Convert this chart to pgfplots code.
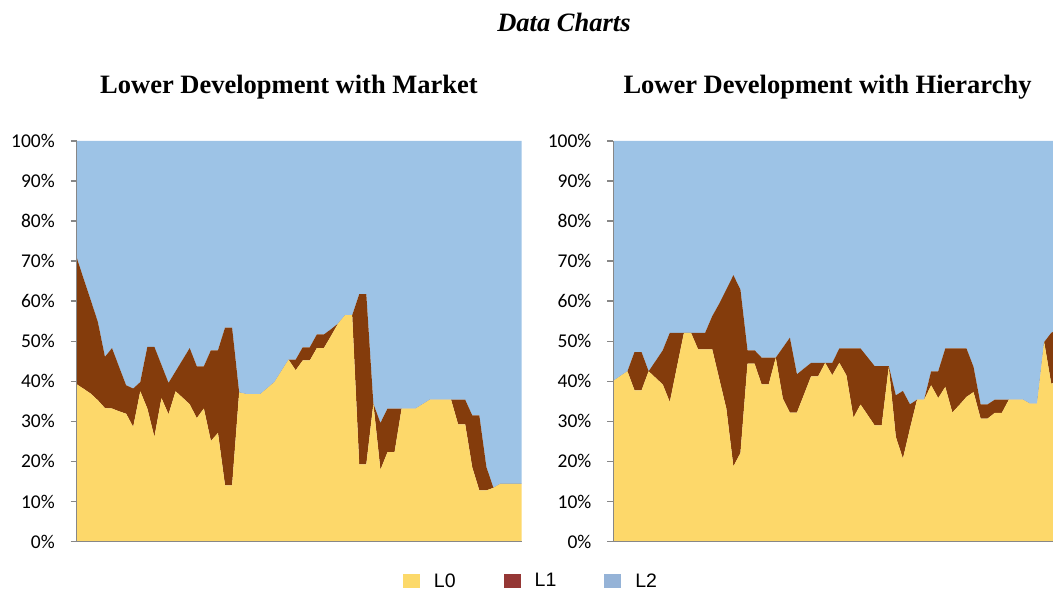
\documentclass[border=0pt]{standalone}
\usepackage{fontspec}
\setmainfont{Liberation Serif}
\newfontfamily\carlito{Carlito}
\newfontfamily\arialf{Liberation Sans}
\usepackage{pgfplots}
\usepackage{pgfplotstable}
\pgfplotsset{compat=1.18}

\definecolor{fillA}{HTML}{FDD86A}
\definecolor{fillB}{HTML}{843C0C}
\definecolor{fillC}{HTML}{9DC3E6}
\definecolor{legA}{HTML}{FCD96A}
\definecolor{legB}{HTML}{953735}
\definecolor{legC}{HTML}{95B3D7}
\definecolor{axisgray}{HTML}{878787}

% shares of L0, L1, L2 (percent) per period
\pgfplotstableread{
i L0 L1 L2
0 39.25 31.65 29.10
1 38.10 27.40 34.50
2 36.90 23.30 39.80
3 35.25 19.55 45.20
4 33.30 12.80 53.90
5 33.20 15.10 51.70
6 32.50 11.10 56.40
7 31.90 7.10 61.00
8 28.60 9.60 61.80
9 37.50 2.30 60.20
10 33.20 15.40 51.40
11 26.10 22.50 51.40
12 35.80 8.30 55.90
13 31.75 7.85 60.40
14 37.50 5.00 57.50
15 35.90 9.50 54.60
16 34.25 14.05 51.70
17 30.80 12.95 56.25
18 33.20 10.55 56.25
19 25.10 22.65 52.25
20 27.10 20.65 52.25
21 14.00 39.40 46.60
22 14.00 39.40 46.60
23 37.20 0 62.80
24 36.80 0 63.20
25 36.80 0 63.20
26 36.80 0 63.20
27 38.30 0 61.70
28 39.80 0 60.20
29 42.60 0 57.40
30 45.40 0 54.60
31 42.75 2.65 54.60
32 45.20 3.30 51.50
33 45.20 3.30 51.50
34 48.30 3.40 48.30
35 48.30 3.40 48.30
36 51.30 1.70 47.00
37 54.40 0 45.60
38 56.50 0 43.50
39 56.50 0 43.50
40 19.25 42.50 38.25
41 19.25 42.50 38.25
42 34.40 0 65.60
43 17.90 11.70 70.40
44 22.30 10.90 66.80
45 22.30 10.90 66.80
46 33.20 0 66.80
47 33.20 0 66.80
48 33.20 0 66.80
49 34.30 0 65.70
50 35.40 0 64.60
51 35.40 0 64.60
52 35.40 0 64.60
53 35.40 0 64.60
54 29.25 6.15 64.60
55 29.25 6.15 64.60
56 18.50 13.00 68.50
57 12.75 18.75 68.50
58 12.75 5.85 81.40
59 13.40 0 86.60
60 14.40 0 85.60
61 14.40 0 85.60
62 14.40 0 85.60
63 14.40 0 85.60
}\market

\pgfplotstableread{
i L0 L1 L2
0 40.10 0 59.90
1 41.30 0 58.70
2 42.50 0 57.50
3 37.75 9.55 52.70
4 37.75 9.55 52.70
5 42.50 0 57.50
6 40.85 4.25 54.90
7 39.20 8.55 52.25
8 34.80 17.30 47.90
9 43.50 8.60 47.90
10 52.10 0 47.90
11 52.10 0 47.90
12 48.00 4.10 47.90
13 48.00 4.10 47.90
14 48.00 8.25 43.75
15 40.60 18.80 40.60
16 33.20 29.70 37.10
17 18.75 47.75 33.50
18 22.10 40.80 37.10
19 44.40 3.35 52.25
20 44.40 3.35 52.25
21 39.20 6.70 54.10
22 39.20 6.70 54.10
23 45.90 0 54.10
24 35.70 12.70 51.60
25 32.20 18.70 49.10
26 32.20 9.55 58.25
27 36.70 6.50 56.80
28 41.25 3.35 55.40
29 41.25 3.35 55.40
30 44.60 0 55.40
31 41.50 3.10 55.40
32 44.60 3.60 51.80
33 41.50 6.70 51.80
34 30.90 17.30 51.80
35 34.20 14.00 51.80
36 31.60 14.40 54.00
37 29.00 14.80 56.20
38 29.00 14.80 56.20
39 43.60 0.20 56.20
40 26.10 10.40 63.50
41 20.70 16.90 62.40
42 28.20 6.05 65.75
43 35.40 0 64.60
44 35.40 0 64.60
45 39.00 3.50 57.50
46 35.80 6.70 57.50
47 38.60 9.60 51.80
48 32.20 16.00 51.80
49 34.10 14.10 51.80
50 36.10 12.10 51.80
51 37.30 6.30 56.40
52 30.70 3.55 65.75
53 30.70 3.55 65.75
54 32.10 3.30 64.60
55 32.10 3.30 64.60
56 35.40 0 64.60
57 35.40 0 64.60
58 35.40 0 64.60
59 34.40 0 65.60
60 34.40 0 65.60
61 49.80 0 50.20
62 39.40 12.70 47.90
63 40.00 13.00 47.00
}\hierarchy

\pgfplotsset{
  share100/.style={
    width=445pt, height=400.5pt, scale only axis, anchor=south west,
    xmin=0, xmax=63, ymin=0, ymax=100,
    stack plots=y, area style, axis on top,
    axis x line*=bottom, axis y line*=left,
    axis line style={draw=axisgray, line width=1.4pt},
    xtick=\empty, ytick={0,10,...,100},
    tick align=outside, major tick length=6pt,
    tick style={draw=axisgray, line width=1.4pt},
    yticklabel={\pgfmathprintnumber{\tick}\%},
    /pgf/number format/assume math mode=true,
    yticklabel style={font=\carlito\fontsize{19.5}{20}\selectfont,
      inner sep=0pt, anchor=east, xshift=-15.7pt},
  },
}

\begin{document}
\begin{tikzpicture}
\path[use as bounding box] (0pt,0pt) rectangle (1053pt,591pt);

\begin{axis}[share100, at={(76.7pt,49.5pt)},
  legend style={at={(1.0187,-0.0986)}, anchor=center, draw=none, fill=none,
    legend columns=-1, font=\arialf\fontsize{19.5}{20}\selectfont,
    nodes={inner sep=0pt},
    /tikz/every odd column/.append style={column sep=14pt},
    /tikz/every even column/.append style={column sep=48pt}},
  legend image code/.code={\fill[#1] (0pt,-7pt) rectangle (17pt,7pt);},
]
  \addplot[fill=fillA, draw=none, forget plot] table[x=i, y=L0] {\market} \closedcycle;
  \addplot[fill=fillB, draw=none, forget plot] table[x=i, y=L1] {\market} \closedcycle;
  \addplot[fill=fillC, draw=none, forget plot] table[x=i, y=L2] {\market} \closedcycle;
  \addlegendimage{fill=legA, draw=none}
  \addlegendentry{L0}
  \addlegendimage{fill=legB, draw=none}
  \addlegendentry{L1}
  \addlegendimage{fill=legC, draw=none}
  \addlegendentry{L2}
\end{axis}

\begin{axis}[share100, at={(613.3pt,49.5pt)}]
  \addplot[fill=fillA, draw=none] table[x=i, y=L0] {\hierarchy} \closedcycle;
  \addplot[fill=fillB, draw=none] table[x=i, y=L1] {\hierarchy} \closedcycle;
  \addplot[fill=fillC, draw=none] table[x=i, y=L2] {\hierarchy} \closedcycle;
\end{axis}

\node[anchor=base, font=\bfseries\itshape\fontsize{26.5}{30}\selectfont]
  at (564pt,559.3pt) {Data Charts};
\node[anchor=base, font=\bfseries\fontsize{26.5}{30}\selectfont]
  at (289pt,497pt) {Lower Development with Market};
\node[anchor=base, font=\bfseries\fontsize{26.5}{30}\selectfont]
  at (827.5pt,497pt) {Lower Development with Hierarchy};
\end{tikzpicture}
\end{document}
